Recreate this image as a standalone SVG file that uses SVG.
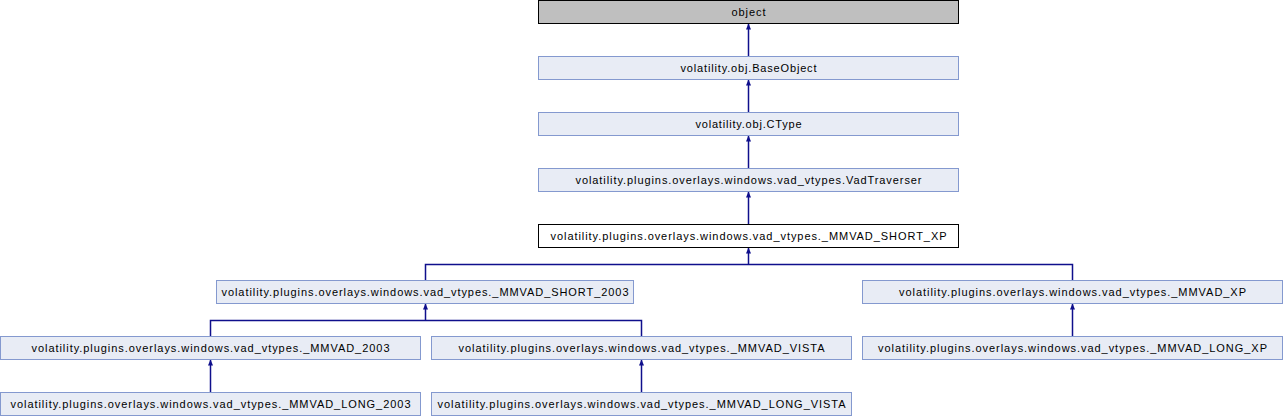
<svg xmlns="http://www.w3.org/2000/svg" width="1283" height="416" viewBox="0 0 1283 416">
<style>
  .n rect { fill: #e8ecf5; stroke: #8499cf; stroke-width: 1; }
  .n.root rect { fill: #bfbfbf; stroke: #000000; }
  .n.cur rect { fill: #ffffff; stroke: #000000; }
  .n text { font-family: "Liberation Sans", Arial, sans-serif; font-size: 11px; fill: #000000; text-anchor: middle; }
  .e { fill: none; stroke: #0f0f8c; stroke-width: 1.5; }
</style>
<defs>
  <marker id="ah" markerUnits="userSpaceOnUse" markerWidth="7" markerHeight="6" refX="6" refY="3" orient="auto">
    <path d="M0,0.5 L6,3 L0,5.5 z" fill="#0f0f8c"/>
  </marker>
</defs>
<rect x="0" y="0" width="1283" height="416" fill="#ffffff"/>
<g id="connectors">
  <path class="e" d="M748.5,56.5 V23.5" marker-end="url(#ah)"/>
  <path class="e" d="M748.5,112.5 V79.5" marker-end="url(#ah)"/>
  <path class="e" d="M748.5,168.5 V135.5" marker-end="url(#ah)"/>
  <path class="e" d="M748.5,224.5 V191.5" marker-end="url(#ah)"/>
  <path class="e" d="M425.5,280.5 V264.5 H1072.5 V280.5"/>
  <path class="e" d="M748.5,264.5 V247.5" marker-end="url(#ah)"/>
  <path class="e" d="M210.5,336.5 V320.5 H641.5 V336.5"/>
  <path class="e" d="M425.5,320.5 V303.5" marker-end="url(#ah)"/>
  <path class="e" d="M210.5,392.5 V359.5" marker-end="url(#ah)"/>
  <path class="e" d="M641.5,392.5 V359.5" marker-end="url(#ah)"/>
  <path class="e" d="M1072.5,336.5 V303.5" marker-end="url(#ah)"/>
</g>
<g id="node-object" class="n root">
  <rect x="538.5" y="0.5" width="420" height="23"/>
  <text x="748.5" y="15.5" textLength="34" lengthAdjust="spacing">object</text>
</g>
<g id="node-BaseObject" class="n">
  <rect x="538.5" y="56.5" width="420" height="23"/>
  <text x="748.5" y="71.5" textLength="136" lengthAdjust="spacing">volatility.obj.BaseObject</text>
</g>
<g id="node-CType" class="n">
  <rect x="538.5" y="112.5" width="420" height="23"/>
  <text x="748.5" y="127.5" textLength="106" lengthAdjust="spacing">volatility.obj.CType</text>
</g>
<g id="node-VadTraverser" class="n">
  <rect x="538.5" y="168.5" width="420" height="23"/>
  <text x="748.5" y="183.5" textLength="346" lengthAdjust="spacing">volatility.plugins.overlays.windows.vad_vtypes.VadTraverser</text>
</g>
<g id="node-MMVAD_SHORT_XP" class="n cur">
  <rect x="538.5" y="224.5" width="420" height="23"/>
  <text x="748.5" y="239.5" textLength="396" lengthAdjust="spacing">volatility.plugins.overlays.windows.vad_vtypes._MMVAD_SHORT_XP</text>
</g>
<g id="node-MMVAD_SHORT_2003" class="n">
  <rect x="216.5" y="280.5" width="417" height="23"/>
  <text x="425" y="295.5" textLength="407" lengthAdjust="spacing">volatility.plugins.overlays.windows.vad_vtypes._MMVAD_SHORT_2003</text>
</g>
<g id="node-MMVAD_XP" class="n">
  <rect x="862.5" y="280.5" width="420" height="23"/>
  <text x="1072.5" y="295.5" textLength="347" lengthAdjust="spacing">volatility.plugins.overlays.windows.vad_vtypes._MMVAD_XP</text>
</g>
<g id="node-MMVAD_2003" class="n">
  <rect x="0.5" y="336.5" width="420" height="23"/>
  <text x="210.5" y="351.5" textLength="358" lengthAdjust="spacing">volatility.plugins.overlays.windows.vad_vtypes._MMVAD_2003</text>
</g>
<g id="node-MMVAD_VISTA" class="n">
  <rect x="431.5" y="336.5" width="420" height="23"/>
  <text x="641.5" y="351.5" textLength="366" lengthAdjust="spacing">volatility.plugins.overlays.windows.vad_vtypes._MMVAD_VISTA</text>
</g>
<g id="node-MMVAD_LONG_XP" class="n">
  <rect x="862.5" y="336.5" width="420" height="23"/>
  <text x="1072.5" y="351.5" textLength="389" lengthAdjust="spacing">volatility.plugins.overlays.windows.vad_vtypes._MMVAD_LONG_XP</text>
</g>
<g id="node-MMVAD_LONG_2003" class="n">
  <rect x="0.5" y="392.5" width="420" height="23"/>
  <text x="210.5" y="407.5" textLength="400" lengthAdjust="spacing">volatility.plugins.overlays.windows.vad_vtypes._MMVAD_LONG_2003</text>
</g>
<g id="node-MMVAD_LONG_VISTA" class="n">
  <rect x="431.5" y="392.5" width="420" height="23"/>
  <text x="641.5" y="407.5" textLength="408" lengthAdjust="spacing">volatility.plugins.overlays.windows.vad_vtypes._MMVAD_LONG_VISTA</text>
</g>
</svg>
